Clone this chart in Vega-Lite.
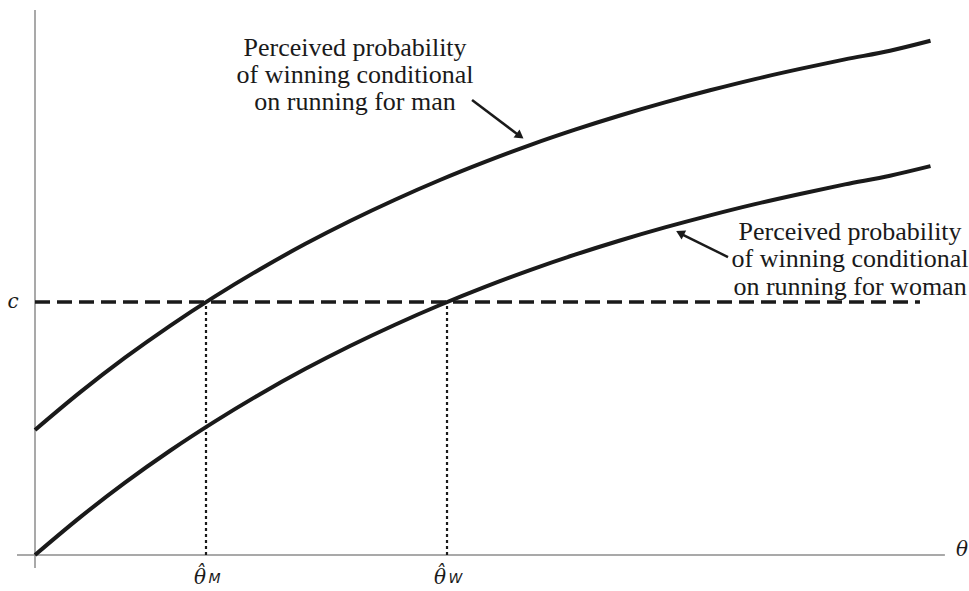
{
  "$schema": "https://vega.github.io/schema/vega-lite/v6.json",
  "width": 969,
  "height": 591,
  "padding": 0,
  "autosize": {"type": "none"},
  "background": "white",
  "config": {"view": {"stroke": null}},
  "datasets": {
    "axes": [
      {"x": 0, "x2": 0, "y": -0.236, "y2": 9.909},
      {"x": -0.2, "x2": 10.11, "y": 0, "y2": 0}
    ],
    "curves": [
      {"series": "man", "theta": 0, "p": 2.273},
      {"series": "man", "theta": 0.5, "p": 2.956},
      {"series": "man", "theta": 1, "p": 3.587},
      {"series": "man", "theta": 1.5, "p": 4.167},
      {"series": "man", "theta": 2, "p": 4.702},
      {"series": "man", "theta": 2.5, "p": 5.196},
      {"series": "man", "theta": 3, "p": 5.653},
      {"series": "man", "theta": 3.5, "p": 6.073},
      {"series": "man", "theta": 4, "p": 6.46},
      {"series": "man", "theta": 4.5, "p": 6.818},
      {"series": "man", "theta": 5, "p": 7.147},
      {"series": "man", "theta": 5.5, "p": 7.453},
      {"series": "man", "theta": 6, "p": 7.733},
      {"series": "man", "theta": 6.5, "p": 7.991},
      {"series": "man", "theta": 7, "p": 8.229},
      {"series": "man", "theta": 7.5, "p": 8.449},
      {"series": "man", "theta": 8, "p": 8.653},
      {"series": "man", "theta": 8.5, "p": 8.838},
      {"series": "man", "theta": 9, "p": 9.011},
      {"series": "man", "theta": 9.5, "p": 9.169},
      {"series": "man", "theta": 9.95, "p": 9.35},
      {"series": "woman", "theta": 0, "p": 0},
      {"series": "woman", "theta": 0.5, "p": 0.684},
      {"series": "woman", "theta": 1, "p": 1.315},
      {"series": "woman", "theta": 1.5, "p": 1.895},
      {"series": "woman", "theta": 2, "p": 2.429},
      {"series": "woman", "theta": 2.5, "p": 2.924},
      {"series": "woman", "theta": 3, "p": 3.38},
      {"series": "woman", "theta": 3.5, "p": 3.8},
      {"series": "woman", "theta": 4, "p": 4.187},
      {"series": "woman", "theta": 4.5, "p": 4.545},
      {"series": "woman", "theta": 5, "p": 4.875},
      {"series": "woman", "theta": 5.5, "p": 5.18},
      {"series": "woman", "theta": 6, "p": 5.46},
      {"series": "woman", "theta": 6.5, "p": 5.718},
      {"series": "woman", "theta": 7, "p": 5.956},
      {"series": "woman", "theta": 7.5, "p": 6.176},
      {"series": "woman", "theta": 8, "p": 6.38},
      {"series": "woman", "theta": 8.5, "p": 6.565},
      {"series": "woman", "theta": 9, "p": 6.738},
      {"series": "woman", "theta": 9.5, "p": 6.896},
      {"series": "woman", "theta": 9.95, "p": 7.07}
    ],
    "cline": [{"x": 0, "x2": 9.833, "y": 4.6}],
    "drops": [
      {"x": 1.9, "y": 0, "y2": 4.6},
      {"x": 4.578, "y": 0, "y2": 4.6}
    ],
    "arrowMan": [{"x": 4.856, "y": 8.273, "x2": 5.36, "y2": 7.65}],
    "arrowWoman": [{"x": 7.7, "y": 5.418, "x2": 7.2, "y2": 5.82}],
    "headMan": [{"x": 5.389, "y": 7.618}],
    "headWoman": [{"x": 7.167, "y": 5.855}],
    "notes": [
      {"text": "Perceived probability", "x": 3.556, "y": 9.218},
      {"text": "of winning conditional", "x": 3.556, "y": 8.727},
      {"text": "on running for man", "x": 3.556, "y": 8.236},
      {"text": "Perceived probability", "x": 9.056, "y": 5.873},
      {"text": "of winning conditional", "x": 9.056, "y": 5.382},
      {"text": "on running for woman", "x": 9.056, "y": 4.873}
    ],
    "mathBig": [
      {"text": "c", "x": -0.244, "y": 4.6},
      {"text": "θ", "x": 10.3, "y": 0.09}
    ],
    "thetaHats": [
      {"text": ["ˆ", "θ"], "x": 1.833, "y": -0.345},
      {"text": ["ˆ", "θ"], "x": 4.5, "y": -0.345}
    ],
    "mathSub": [
      {"text": "M", "x": 1.995, "y": -0.436},
      {"text": "W", "x": 4.672, "y": -0.436}
    ]
  },
  "layer": [
    {
      "data": {"name": "axes"},
      "mark": {"type": "rule", "color": "#8c8c8c", "strokeWidth": 1.5},
      "encoding": {
        "x": {"field": "x", "type": "quantitative", "scale": {"domain": [-0.3889, 10.3778], "nice": false, "zero": false}, "axis": null},
        "x2": {"field": "x2"},
        "y": {"field": "y", "type": "quantitative", "scale": {"domain": [-0.6545, 10.0909], "nice": false, "zero": false}, "axis": null},
        "y2": {"field": "y2"}
      }
    },
    {
      "data": {"name": "cline"},
      "mark": {"type": "rule", "color": "#1a1a1a", "strokeWidth": 3.5, "strokeDash": [15, 7]},
      "encoding": {
        "x": {"field": "x", "type": "quantitative"},
        "x2": {"field": "x2"},
        "y": {"field": "y", "type": "quantitative"}
      }
    },
    {
      "data": {"name": "drops"},
      "mark": {"type": "rule", "color": "#1a1a1a", "strokeWidth": 2.2, "strokeDash": [3, 3]},
      "encoding": {
        "x": {"field": "x", "type": "quantitative"},
        "y": {"field": "y", "type": "quantitative"},
        "y2": {"field": "y2"}
      }
    },
    {
      "data": {"name": "curves"},
      "mark": {"type": "line", "color": "#1a1a1a", "strokeWidth": 4, "interpolate": "monotone"},
      "encoding": {
        "x": {"field": "theta", "type": "quantitative"},
        "y": {"field": "p", "type": "quantitative"},
        "detail": {"field": "series"}
      }
    },
    {
      "data": {"name": "arrowMan"},
      "mark": {"type": "rule", "color": "#1a1a1a", "strokeWidth": 2.5},
      "encoding": {
        "x": {"field": "x", "type": "quantitative"},
        "x2": {"field": "x2"},
        "y": {"field": "y", "type": "quantitative"},
        "y2": {"field": "y2"}
      }
    },
    {
      "data": {"name": "arrowWoman"},
      "mark": {"type": "rule", "color": "#1a1a1a", "strokeWidth": 2.5},
      "encoding": {
        "x": {"field": "x", "type": "quantitative"},
        "x2": {"field": "x2"},
        "y": {"field": "y", "type": "quantitative"},
        "y2": {"field": "y2"}
      }
    },
    {
      "data": {"name": "headMan"},
      "mark": {"type": "point", "shape": "triangle-up", "filled": true, "color": "#1a1a1a", "opacity": 1, "size": 100, "angle": 127},
      "encoding": {
        "x": {"field": "x", "type": "quantitative"},
        "y": {"field": "y", "type": "quantitative"}
      }
    },
    {
      "data": {"name": "headWoman"},
      "mark": {"type": "point", "shape": "triangle-up", "filled": true, "color": "#1a1a1a", "opacity": 1, "size": 100, "angle": 297},
      "encoding": {
        "x": {"field": "x", "type": "quantitative"},
        "y": {"field": "y", "type": "quantitative"}
      }
    },
    {
      "data": {"name": "notes"},
      "mark": {"type": "text", "font": "Liberation Serif", "fontSize": 26, "color": "#1a1a1a", "align": "center", "baseline": "middle"},
      "encoding": {
        "x": {"field": "x", "type": "quantitative"},
        "y": {"field": "y", "type": "quantitative"},
        "text": {"field": "text"}
      }
    },
    {
      "data": {"name": "mathBig"},
      "mark": {"type": "text", "font": "DejaVu Serif", "fontStyle": "italic", "fontSize": 20, "color": "#1a1a1a", "align": "center", "baseline": "middle"},
      "encoding": {
        "x": {"field": "x", "type": "quantitative"},
        "y": {"field": "y", "type": "quantitative"},
        "text": {"field": "text"}
      }
    },
    {
      "data": {"name": "thetaHats"},
      "mark": {"type": "text", "font": "DejaVu Serif", "fontStyle": "italic", "fontSize": 20, "lineHeight": 4, "color": "#1a1a1a", "align": "center", "baseline": "middle"},
      "encoding": {
        "x": {"field": "x", "type": "quantitative"},
        "y": {"field": "y", "type": "quantitative"},
        "text": {"field": "text"}
      }
    },
    {
      "data": {"name": "mathSub"},
      "mark": {"type": "text", "font": "DejaVu Sans", "fontStyle": "italic", "fontSize": 14, "color": "#1a1a1a", "align": "center", "baseline": "middle"},
      "encoding": {
        "x": {"field": "x", "type": "quantitative"},
        "y": {"field": "y", "type": "quantitative"},
        "text": {"field": "text"}
      }
    }
  ]
}
